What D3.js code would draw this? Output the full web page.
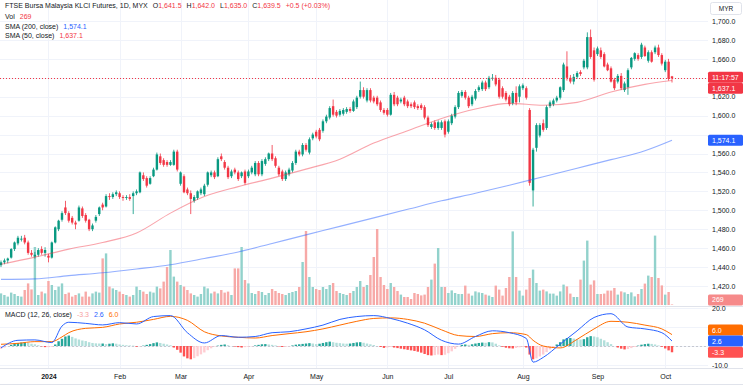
<!DOCTYPE html>
<html>
<head>
<meta charset="utf-8">
<script src="https://cdn.jsdelivr.net/npm/d3@7"></script>
<style>
body { margin: 0; background: #fff; }
svg { display: block; font-family: "Liberation Sans", Arial, sans-serif; }
</style>
</head>
<body>
<script>
// daily bars, [open, high, low, close], mid Dec 2023 .. 3 Oct 2024
var ohlc = [
 [1442,1447,1440,1445],[1445,1449,1443,1447],[1447,1450,1444,1449],[1450,1460,1449,1459],[1459,1467,1457,1466],
 [1465,1473,1463,1471],[1469,1473,1467,1470],[1471,1474,1464,1466],[1466,1468,1453,1455],[1455,1458,1451,1453],
 [1451,1456,1449,1453],[1453,1460,1451,1458],[1459,1462,1453,1455],[1455,1461,1451,1458],[1452,1454,1445,1450],
 [1450,1467,1449,1466],[1466,1483,1465,1482],[1480,1490,1478,1489],[1490,1499,1488,1497],[1503,1510,1495,1497],
 [1497,1499,1487,1489],[1492,1494,1485,1487],[1487,1489,1480,1485],[1489,1505,1488,1503],[1502,1504,1492,1494],
 [1495,1497,1487,1489],[1490,1491,1478,1480],[1480,1486,1478,1484],[1489,1495,1487,1493],[1496,1504,1494,1503],
 [1506,1508,1500,1503],[1504,1517,1503,1515],[1515,1518,1511,1514],[1514,1519,1512,1517],[1517,1521,1515,1519],
 [1518,1520,1512,1514],[1514,1516,1510,1513],[1513,1516,1511,1514],[1514,1517,1510,1512],[1515,1520,1496,1518],
 [1518,1522,1516,1520],[1519,1541,1518,1540],[1537,1540,1531,1533],[1534,1536,1524,1526],[1528,1536,1527,1534],
 [1536,1545,1535,1543],[1543,1561,1542,1559],[1557,1560,1548,1550],[1553,1555,1546,1548],[1551,1553,1546,1548],
 [1548,1553,1547,1551],[1548,1564,1547,1562],[1562,1564,1541,1543],[1528,1541,1526,1540],[1536,1538,1518,1519],
 [1522,1524,1516,1518],[1518,1521,1496,1512],[1510,1516,1508,1514],[1513,1521,1511,1520],[1518,1524,1516,1522],
 [1517,1528,1515,1526],[1527,1541,1525,1540],[1537,1542,1535,1540],[1540,1542,1533,1535],[1536,1556,1535,1554],
 [1557,1560,1552,1554],[1551,1553,1543,1545],[1545,1547,1533,1535],[1536,1543,1534,1541],[1543,1545,1538,1540],
 [1540,1542,1531,1533],[1536,1541,1534,1540],[1541,1543,1527,1529],[1536,1543,1534,1541],[1540,1547,1538,1545],
 [1538,1552,1536,1550],[1550,1552,1536,1538],[1538,1554,1536,1552],[1549,1556,1547,1554],[1554,1561,1552,1560],
 [1560,1569,1552,1554],[1555,1557,1545,1547],[1545,1547,1536,1538],[1541,1543,1531,1533],[1533,1542,1531,1540],
 [1538,1545,1536,1543],[1542,1552,1540,1550],[1550,1564,1548,1562],[1562,1564,1557,1559],[1559,1571,1557,1569],
 [1569,1571,1562,1564],[1561,1577,1559,1575],[1576,1582,1574,1580],[1583,1585,1576,1578],[1585,1587,1573,1575],
 [1584,1596,1582,1594],[1594,1601,1592,1599],[1598,1610,1596,1608],[1610,1617,1599,1601],[1604,1606,1598,1600],
 [1601,1607,1599,1605],[1602,1608,1600,1606],[1604,1609,1602,1607],[1607,1609,1603,1605],[1605,1617,1604,1615],
 [1609,1621,1607,1619],[1620,1636,1618,1627],[1627,1630,1618,1620],[1616,1629,1614,1627],[1627,1629,1614,1616],
 [1619,1621,1613,1615],[1619,1621,1610,1612],[1614,1616,1604,1606],[1606,1608,1601,1603],[1606,1608,1599,1601],
 [1601,1624,1600,1622],[1622,1625,1610,1612],[1619,1621,1610,1612],[1615,1619,1613,1617],[1619,1621,1610,1612],
 [1615,1617,1608,1610],[1612,1614,1608,1610],[1614,1616,1607,1609],[1610,1612,1606,1608],[1611,1613,1606,1608],
 [1609,1611,1596,1598],[1598,1600,1588,1590],[1588,1593,1586,1591],[1593,1595,1585,1587],[1587,1595,1585,1593],
 [1587,1595,1585,1593],[1594,1596,1577,1580],[1583,1596,1581,1594],[1592,1602,1590,1600],[1599,1611,1597,1609],
 [1609,1626,1607,1624],[1621,1627,1619,1625],[1625,1627,1617,1619],[1619,1621,1608,1610],[1612,1622,1610,1620],
 [1618,1628,1616,1626],[1627,1632,1625,1630],[1628,1637,1626,1635],[1635,1637,1626,1628],[1630,1642,1628,1640],
 [1639,1644,1637,1640],[1640,1643,1631,1633],[1638,1640,1618,1620],[1629,1631,1618,1620],[1624,1626,1615,1617],
 [1620,1622,1610,1612],[1613,1626,1611,1624],[1624,1631,1611,1614],[1620,1633,1614,1631],[1629,1634,1627,1632],
 [1629,1631,1617,1619],[1606,1608,1526,1529],[1521,1566,1504,1564],[1566,1592,1562,1590],[1579,1592,1577,1590],
 [1592,1596,1583,1585],[1587,1611,1585,1609],[1610,1616,1608,1614],[1612,1618,1610,1616],[1616,1621,1614,1619],
 [1619,1631,1617,1630],[1627,1656,1625,1654],[1652,1668,1637,1640],[1640,1643,1634,1636],[1636,1644,1633,1641],
 [1641,1647,1639,1645],[1646,1648,1642,1644],[1651,1660,1649,1658],[1651,1688,1649,1683],[1683,1691,1660,1662],
 [1669,1672,1636,1638],[1665,1673,1663,1671],[1669,1672,1660,1662],[1665,1667,1651,1652],[1654,1656,1647,1648],
 [1650,1652,1635,1636],[1638,1640,1627,1629],[1636,1644,1634,1642],[1642,1645,1627,1629],[1627,1636,1625,1634],
 [1630,1650,1622,1648],[1651,1662,1649,1661],[1660,1667,1658,1666],[1664,1666,1658,1660],[1662,1677,1660,1675],
 [1672,1674,1662,1663],[1658,1669,1656,1667],[1667,1669,1656,1657],[1667,1674,1665,1672],[1672,1675,1662,1664],
 [1664,1666,1653,1655],[1648,1659,1646,1657],[1657,1660,1637,1639],[1641.5,1642,1635,1639.5]
];

var volumes = [
 5800,5000,4200,6200,5500,4500,4200,7500,10800,7800,
 29000,5000,6700,5800,12000,10000,7500,9200,10800,5500,
 6200,4200,5000,5800,4200,6700,4200,5800,6700,6200,
 23300,25800,9200,8300,7500,6700,5500,5000,4200,5000,
 9200,7500,6700,5500,6700,6200,9200,8300,11700,19000,
 27500,14200,11700,10000,9200,7500,5800,5000,4200,5500,
 9200,8300,5800,6700,5800,7500,6200,6700,5000,18300,
 18300,29000,12500,10800,6000,5500,7000,6500,5000,6000,
 8000,7000,6000,5500,5000,6000,6500,7000,9000,21500,
 37000,14000,9000,8000,7500,9000,8000,10000,11000,7000,
 6000,5500,5000,6000,7000,9000,12000,9000,10000,15000,
 24000,38000,14000,10000,8000,11000,9000,7000,5200,4000,
 4000,3000,6000,5500,4800,5200,9000,12700,20700,28500,
 9000,9000,6000,7300,6000,5500,5500,9700,5700,4700,
 6800,6300,6000,5200,4700,4000,9700,7700,4700,8500,
 14000,36800,14000,7200,4700,7700,13500,17700,11000,7200,
 7700,6800,5700,5700,4700,6800,10200,9300,5700,4000,
 4000,12700,22200,32200,10200,12300,5500,5500,5700,7200,
 7200,8500,5200,6800,6300,5500,6300,4300,5500,8000,
 10700,14700,14000,34700,13500,9800,5200,6500,269
];

// moving averages read at every 10th bar
var smaIdx = [0,10,20,30,40,50,60,70,80,90,100,110,120,130,140,150,160,170,180,190,198];
var sma50 = [1443,1450.5,1459,1466,1476,1497,1514.5,1525,1534,1543.5,1554,1571,1584,1597,1607,1613,1611,1614,1625,1633,1637.1];
var sma200 = [1427,1427.5,1431,1434,1438,1442.5,1449,1456,1465,1474,1483,1492,1501,1510,1518,1526.5,1535.5,1544.5,1553.5,1563,1574.1];

// MACD and signal read at sample bars, histogram per bar
var macdIdx = [0,5,10,15,18,20,25,30,35,40,45,50,55,60,65,70,75,80,85,90,95,100,105,110,115,120,125,130,135,140,145,150,155,157,160,165,170,175,180,185,190,195,198];
var macdVals = [-1.0,3.0,3.2,1.8,10.5,12.5,11.9,11.1,12.3,11.6,15.5,16,7,1.6,5.5,4.6,5,7,7.5,9,11,14,15.5,16,14.5,12,8.5,3,1,5,8,7,4,-8.5,-6,1,8,15,17,10,9,7,2.6];
var signalVals = [0.9,1.4,2.3,2.3,4.8,7.0,9.3,9.8,11.6,12.5,14,15.6,13.5,7.5,5.3,4.6,4.2,5.5,6.5,7.5,9,11,13,14.5,14.8,14,12,8.5,5.5,5,6.5,7,6,3,0,-1,3.5,9,13,12.5,11,9,6];
var macdHist = [
 -1.5,-0.8,0.0,0.6,1.2,1.6,1.8,1.9,1.6,1.2,
 0.9,0.4,-0.2,-0.6,-0.6,-0.4,0.8,2.5,3.8,5.0,
 5.5,4.8,4.0,3.4,2.9,2.6,2.0,1.6,1.4,1.3,
 1.3,1.0,1.2,1.4,1.2,0.8,0.6,0.4,0.3,0.2,
 -0.4,-0.2,0.2,0.6,1.0,1.5,1.9,1.6,1.2,0.8,
 0.4,-0.8,-2.0,-3.5,-5.5,-6.5,-7.0,-6.4,-5.4,-4.4,
 -3.4,-2.2,-1.2,-0.3,0.2,0.6,0.8,0.4,0.0,-0.3,
 -0.6,-0.8,-0.6,-0.4,-0.2,0.3,0.6,0.9,1.0,0.8,
 0.6,0.3,-0.2,-0.5,-0.4,-0.2,0.3,0.7,0.9,1.1,
 1.3,1.5,1.3,1.0,1.2,1.6,2.0,2.3,2.0,1.7,
 1.5,1.3,1.2,1.3,1.6,1.9,2.0,1.7,1.3,0.9,
 0.5,0.0,-0.5,-1.0,-0.8,-0.5,-0.8,-1.1,-1.4,-1.7,
 -2.0,-2.3,-2.6,-3.0,-3.5,-4.2,-4.8,-5.0,-4.8,-4.5,
 -4.8,-4.6,-3.8,-2.8,-1.5,-0.2,0.6,0.8,0.6,0.9,
 1.3,1.6,1.8,1.7,2.0,1.9,1.2,0.3,-0.4,-0.9,
 -1.2,-1.3,-1.0,-0.7,-0.5,-0.8,-4.5,-7.0,-6.5,-5.5,
 -4.5,-3.2,-1.8,-0.5,0.8,2.0,3.5,4.2,4.2,3.9,
 3.6,3.4,3.6,4.6,5.2,5.0,4.6,3.8,3.0,2.0,
 1.0,0.0,-0.8,-1.4,-1.8,-1.6,-1.1,-0.5,0.2,0.7,
 1.0,1.2,1.1,0.8,0.3,-0.4,-1.3,-2.3,-3.3
];

var monthIdx = [14,35,53,73,93,114,132,154,176,196];
var monthNames = ["2024","Feb","Mar","Apr","May","Jun","Jul","Aug","Sep","Oct"];
var priceTicks = d3.range(1420, 1701, 20);
var macdTicks = [-10, 0, 10, 20];

var W = 743, H = 390, plotR = 708;
var UP = "#089981", DOWN = "#f23645";

var x = d3.scaleLinear().domain([0, ohlc.length - 1]).range([1, 672]);
var yP = d3.scaleLinear().domain([1420, 1700]).range([286, 21]);
var yV = d3.scaleLinear().domain([0, 40000]).range([305, 225]);
var yM = d3.scaleLinear().domain([-10, 20]).range([365, 308]);

var svg = d3.select("body").append("svg").attr("width", W).attr("height", H);
svg.append("rect").attr("width", W).attr("height", H).attr("fill", "#fff");

var defs = svg.append("defs");
defs.append("clipPath").attr("id", "cMain").append("rect").attr("x", 0).attr("y", 0).attr("width", plotR).attr("height", 305);
defs.append("clipPath").attr("id", "cMacd").append("rect").attr("x", 0).attr("y", 307).attr("width", plotR).attr("height", 61);

// grid
var grid = svg.append("g").attr("stroke", "#f0f3fa").attr("stroke-width", 1);
grid.selectAll(".h").data(priceTicks).enter().append("line")
    .attr("x1", 0).attr("x2", plotR)
    .attr("y1", function(d) { return Math.round(yP(d)) + 0.5; })
    .attr("y2", function(d) { return Math.round(yP(d)) + 0.5; });
grid.selectAll(".m").data(macdTicks).enter().append("line")
    .attr("x1", 0).attr("x2", plotR)
    .attr("y1", function(d) { return Math.round(yM(d)) + 0.5; })
    .attr("y2", function(d) { return Math.round(yM(d)) + 0.5; });
grid.selectAll(".v").data(monthIdx).enter().append("line")
    .attr("x1", function(d) { return Math.round(x(d)) + 0.5; })
    .attr("x2", function(d) { return Math.round(x(d)) + 0.5; })
    .attr("y1", 0).attr("y2", 368);

function isUp(d) { return d[3] >= d[0]; }
var bw = 2.4;

var main = svg.append("g").attr("clip-path", "url(#cMain)");

// volume
main.append("g").selectAll("rect").data(volumes).enter().append("rect")
    .attr("x", function(d, i) { return x(i) - bw / 2; })
    .attr("width", bw)
    .attr("y", function(d) { return yV(d); })
    .attr("height", function(d) { return yV(0) - yV(d); })
    .attr("fill", function(d, i) { return isUp(ohlc[i]) ? "#92d2cc" : "#f7a9a7"; });

// candles
var cg = main.append("g").selectAll("g").data(ohlc).enter().append("g")
    .attr("fill", function(d) { return isUp(d) ? UP : DOWN; });
cg.append("rect")
    .attr("x", function(d, i) { return x(i) - 0.4; })
    .attr("width", 0.8)
    .attr("y", function(d) { return yP(d[1]); })
    .attr("height", function(d) { return yP(d[2]) - yP(d[1]); });
cg.append("rect")
    .attr("x", function(d, i) { return x(i) - bw / 2; })
    .attr("width", bw)
    .attr("y", function(d) { return yP(Math.max(d[0], d[3])); })
    .attr("height", function(d) { return Math.max(0.8, Math.abs(yP(d[0]) - yP(d[3]))); });

// moving averages
var smaLine = d3.line().x(function(d) { return x(d[0]); }).y(function(d) { return yP(d[1]); }).curve(d3.curveMonotoneX);
main.append("path").datum(smaIdx.map(function(v, i) { return [v, sma200[i]]; }))
    .attr("d", smaLine).attr("fill", "none").attr("stroke", "#2962ff").attr("stroke-opacity", 0.5).attr("stroke-width", 1.1);
main.append("path").datum(smaIdx.map(function(v, i) { return [v, sma50[i]]; }))
    .attr("d", smaLine).attr("fill", "none").attr("stroke", "#f23645").attr("stroke-opacity", 0.45).attr("stroke-width", 1.1);

// last price line
var last = ohlc[ohlc.length - 1];
svg.append("line").attr("x1", 0).attr("x2", plotR)
    .attr("y1", Math.round(yP(last[3])) + 0.5).attr("y2", Math.round(yP(last[3])) + 0.5)
    .attr("stroke", DOWN).attr("stroke-width", 1).attr("stroke-dasharray", "1,2");

// MACD pane
var mg = svg.append("g").attr("clip-path", "url(#cMacd)");
mg.append("line").attr("x1", 0).attr("x2", plotR)
    .attr("y1", Math.round(yM(0)) + 0.5).attr("y2", Math.round(yM(0)) + 0.5)
    .attr("stroke", "#b2b5be").attr("stroke-dasharray", "2,2").attr("stroke-opacity", 0.7);
mg.append("g").selectAll("rect").data(macdHist).enter().append("rect")
    .attr("x", function(d, i) { return x(i) - bw / 2; })
    .attr("width", bw)
    .attr("y", function(d) { return Math.min(yM(d), yM(0)); })
    .attr("height", function(d) { return Math.abs(yM(d) - yM(0)); })
    .attr("fill", function(d, i) {
        var p = i > 0 ? macdHist[i - 1] : d;
        if (d >= 0) return d >= p ? "#26a69a" : "#b2dfdb";
        return d < p ? "#ff5252" : "#ffcdd2";
    });
var mLine = d3.line().x(function(d) { return x(d[0]); }).y(function(d) { return yM(d[1]); }).curve(d3.curveMonotoneX);
mg.append("path").datum(macdIdx.map(function(v, i) { return [v, signalVals[i]]; }))
    .attr("d", mLine).attr("fill", "none").attr("stroke", "#ff6d00").attr("stroke-width", 1);
mg.append("path").datum(macdIdx.map(function(v, i) { return [v, macdVals[i]]; }))
    .attr("d", mLine).attr("fill", "none").attr("stroke", "#2962ff").attr("stroke-width", 1);

// separators
var sep = svg.append("g").attr("stroke", "#e0e3eb").attr("stroke-width", 1);
sep.append("line").attr("x1", 0).attr("x2", W).attr("y1", 306.5).attr("y2", 306.5);
sep.append("line").attr("x1", 0).attr("x2", W).attr("y1", 368.5).attr("y2", 368.5);
sep.append("line").attr("x1", 0).attr("x2", W).attr("y1", 384.5).attr("y2", 384.5);

// axis tags (price scale markers)
var fmt1 = d3.format(",.1f");
var lastSma50 = sma50[sma50.length - 1], lastSma200 = sma200[sma200.length - 1];
var lastMacd = macdVals[macdVals.length - 1], lastSig = signalVals[signalVals.length - 1], lastHist = macdHist[macdHist.length - 1];
var pY = yP(last[3]) - 1;
var tags = [
    [pY, "11:17:57", DOWN],
    [pY + 11, fmt1(lastSma50), DOWN],
    [yP(lastSma200), fmt1(lastSma200), "#2962ff"],
    [Math.min(yV(volumes[volumes.length - 1]), 300), String(volumes[volumes.length - 1]), "#f68a8a"],
    [yM(lastMacd) - 11, lastSig.toFixed(1), "#ff6d00"],
    [yM(lastMacd), lastMacd.toFixed(1), "#2962ff"],
    [yM(lastHist), lastHist.toFixed(1), "#ff5252"]
];
function covered(yc) {
    return tags.some(function(t) { return Math.abs(t[0] - yc) < 7; });
}

// axes
var axP = svg.append("g").attr("transform", "translate(" + plotR + ",0)")
    .call(d3.axisRight(yP).tickValues(priceTicks.filter(function(d) { return !covered(yP(d)); }))
    .tickSize(0).tickPadding(4).tickFormat(fmt1));
var axM = svg.append("g").attr("transform", "translate(" + plotR + ",0)")
    .call(d3.axisRight(yM).tickValues(macdTicks.filter(function(d) { return !covered(yM(d)); }))
    .tickSize(0).tickPadding(4).tickFormat(function(d) { return d.toFixed(1); }));
var axT = svg.append("g").attr("transform", "translate(0,369)")
    .call(d3.axisBottom(x).tickValues(monthIdx).tickSize(0).tickPadding(5)
    .tickFormat(function(d, i) { return monthNames[i]; }));
[axP, axM, axT].forEach(function(a) {
    a.select(".domain").remove();
    a.attr("font-family", null).attr("font-size", 7);
    a.selectAll("text").attr("fill", "#131722");
});
axT.selectAll("text").filter(function(d, i) { return i === 0; }).attr("font-weight", "bold");

tags.forEach(function(t) {
    svg.append("rect").attr("x", plotR).attr("y", t[0] - 5.5).attr("width", 35).attr("height", 11)
        .attr("rx", 1.5).attr("fill", t[2]);
    svg.append("text").attr("x", plotR + 4).attr("y", t[0]).attr("dy", "0.35em")
        .attr("font-size", 7).attr("fill", "#fff").text(t[1]);
});

svg.append("rect").attr("x", 710.5).attr("y", 2.5).attr("width", 31).attr("height", 12).attr("rx", 2)
    .attr("fill", "#fff").attr("stroke", "#e0e3eb");
svg.append("text").attr("x", 726).attr("y", 8.5).attr("dy", "0.35em").attr("text-anchor", "middle")
    .attr("font-size", 6.5).attr("fill", "#131722").text("MYR");

// legends
var leg = svg.append("g").attr("font-size", 7).attr("fill", "#131722");
var prevClose = ohlc[ohlc.length - 2][3];
var chg = last[3] - prevClose;
var t1 = leg.append("text").attr("x", 5).attr("y", 6).attr("dy", "0.35em");
t1.append("tspan").text("FTSE Bursa Malaysia KLCI Futures, 1D, MYX");
[["O", last[0]], ["H", last[1]], ["L", last[2]], ["C", last[3]]].forEach(function(p) {
    t1.append("tspan").attr("dx", 5).text(p[0]);
    t1.append("tspan").attr("fill", DOWN).text(fmt1(p[1]));
});
t1.append("tspan").attr("dx", 5).attr("fill", DOWN)
    .text((chg >= 0 ? "+" : "") + chg.toFixed(1) + " (" + (chg >= 0 ? "+" : "") + (chg / prevClose * 100).toFixed(2) + "%)");

function legRow(y, label, parts) {
    var t = leg.append("text").attr("x", 5).attr("y", y).attr("dy", "0.35em");
    t.append("tspan").text(label);
    parts.forEach(function(p) { t.append("tspan").attr("dx", 5).attr("fill", p[1]).text(p[0]); });
}
legRow(17, "Vol", [[String(volumes[volumes.length - 1]), DOWN]]);
legRow(26.5, "SMA (200, close)", [[fmt1(lastSma200), "#2962ff"]]);
legRow(36, "SMA (50, close)", [[fmt1(lastSma50), DOWN]]);
legRow(315, "MACD (12, 26, close)", [[lastHist.toFixed(1), "#f7a0a0"], [lastMacd.toFixed(1), "#2962ff"], [lastSig.toFixed(1), "#ff6d00"]]);
</script>
</body>
</html>
